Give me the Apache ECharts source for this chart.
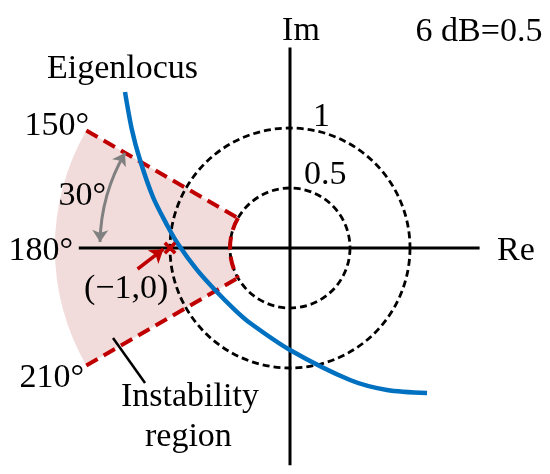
<!DOCTYPE html>
<html>
<head>
<meta charset="utf-8">
<script src="https://cdn.jsdelivr.net/npm/echarts@6/dist/echarts.min.js"></script>
<style>
  html, body { margin: 0; padding: 0; background: #fff; }
  #chart { width: 550px; height: 474px; }
</style>
</head>
<body>
<div id="chart"></div>
<script>
// 坐标轴（Re / Im）
const reAxis = [[-1.76, 0], [1.58, 0]];
const imAxis = [[0, 1.67], [0, -1.81]];
// 虚线圆半径
const circleRadii = [1, 0.5];
// 不稳定区域：角度 + 半径
const sectorAngles = [150, 210];
const sectorRadii = [0.5, 1.96];
// 特征轨迹
const eigenlocus = [
  [-1.375, 1.30], [-1.317, 0.983], [-1.25, 0.733], [-1.142, 0.425],
  [-1.025, 0.192], [-0.933, 0.033], [-0.775, -0.183], [-0.625, -0.35],
  [-0.458, -0.517], [-0.333, -0.625], [0, -0.85],
  [0.5, -1.1], [0.808, -1.183], [1.142, -1.208]
];
// (-1,0) 点
const criticalPoint = [[-1, 0]];
// 指向 (-1,0) 的箭头
const pointArrow = [[-1.27, -0.175], [-1.055, -0.01]];
// 30° 弧形双箭头
const angleArrow = [[-1.375, 0.792], [-1.583, 0.05]];
// 标注引线
const leader = [[-1.475, -0.75], [-1.208, -1.125]];
// 刻度文字
const tickLabels = ['1', '0.5'];

const red = '#c00000';

let myChart = echarts.init(document.getElementById('chart'));

function toRad(deg) {
  return deg * Math.PI / 180;
}

function label(text, x, y, align) {
  return {
    type: 'text', x: x, y: y, z: 100,
    style: {
      text: text, fontSize: 34, fontFamily: 'Liberation Serif',
      fill: '#000', align: align || 'left', verticalAlign: 'middle'
    }
  };
}

let option = {
  animation: false,
  grid: { left: 0, right: 0, top: 0, bottom: 0 },
  xAxis: { type: 'value', min: -290 / 120, max: 260 / 120, show: false },
  yAxis: { type: 'value', min: -226 / 120, max: 248 / 120, show: false },
  series: [
    {
      // 粉色扇区
      type: 'custom', z: 1, silent: true,
      data: [[sectorAngles[0], sectorAngles[1], sectorRadii[0], sectorRadii[1]]],
      renderItem: function (params, api) {
        const c = api.coord([0, 0]);
        const r0 = api.size([api.value(2), 0])[0];
        const r = api.size([api.value(3), 0])[0];
        return {
          type: 'sector',
          shape: { cx: c[0], cy: c[1], r0: r0, r: r, startAngle: toRad(api.value(0)), endAngle: toRad(api.value(1)), clockwise: true },
          style: { fill: '#f2dcdb' }
        };
      }
    },
    {
      type: 'line', z: 2, data: reAxis, symbol: 'none', silent: true,
      lineStyle: { color: '#000', width: 3 }
    },
    {
      type: 'line', z: 2, data: imAxis, symbol: 'none', silent: true,
      lineStyle: { color: '#000', width: 3 }
    },
    {
      // 虚线圆
      type: 'custom', z: 3, silent: true,
      data: circleRadii.map(r => [r]),
      renderItem: function (params, api) {
        const c = api.coord([0, 0]);
        const r = api.size([api.value(0), 0])[0];
        return {
          type: 'circle',
          shape: { cx: c[0], cy: c[1], r: r },
          style: { fill: 'none', stroke: '#000', lineWidth: 2.8, lineDash: [7, 4] }
        };
      }
    },
    {
      // 红色虚线边界
      type: 'custom', z: 4, silent: true,
      data: [[sectorAngles[0], sectorAngles[1], sectorRadii[0], sectorRadii[1]]],
      renderItem: function (params, api) {
        const a1 = toRad(api.value(0)), a2 = toRad(api.value(1));
        const ri = api.value(2), ro = api.value(3);
        const p1o = api.coord([ro * Math.cos(a1), ro * Math.sin(a1)]);
        const p1i = api.coord([ri * Math.cos(a1), ri * Math.sin(a1)]);
        const p2o = api.coord([ro * Math.cos(a2), ro * Math.sin(a2)]);
        const p2i = api.coord([ri * Math.cos(a2), ri * Math.sin(a2)]);
        const c = api.coord([0, 0]);
        const rpx = api.size([ri, 0])[0];
        const style = { fill: 'none', stroke: red, lineWidth: 4, lineDash: [13, 7] };
        return {
          type: 'group',
          children: [
            { type: 'line', shape: { x1: p1o[0], y1: p1o[1], x2: p1i[0], y2: p1i[1] }, style: style },
            { type: 'line', shape: { x1: p2o[0], y1: p2o[1], x2: p2i[0], y2: p2i[1] }, style: style },
            { type: 'arc', shape: { cx: c[0], cy: c[1], r: rpx, startAngle: -a1, endAngle: -a2, clockwise: false }, style: style }
          ]
        };
      }
    },
    {
      type: 'line', z: 5, data: eigenlocus, symbol: 'none', smooth: 0.3, silent: true,
      lineStyle: { color: '#0070c0', width: 4.5 }
    },
    {
      type: 'lines', coordinateSystem: 'cartesian2d', z: 6, silent: true,
      symbol: ['none', 'arrow'], symbolSize: 13,
      lineStyle: { color: red, width: 3.5, opacity: 1 },
      data: [{ coords: pointArrow }]
    },
    {
      type: 'lines', coordinateSystem: 'cartesian2d', z: 6, silent: true,
      symbol: ['arrow', 'arrow'], symbolSize: 12,
      lineStyle: { color: '#808080', width: 3, curveness: -0.13, opacity: 1 },
      data: [{ coords: angleArrow }]
    },
    {
      type: 'line', z: 6, data: leader, symbol: 'none', silent: true,
      lineStyle: { color: '#000', width: 2.5 }
    },
    {
      type: 'scatter', z: 7, data: criticalPoint, silent: true,
      symbol: 'path://M2,0L5,3L8,0L10,2L7,5L10,8L8,10L5,7L2,10L0,8L3,5L0,2Z',
      symbolSize: 13,
      itemStyle: { color: red, opacity: 1 }
    }
  ],
  graphic: [
    label('Im', 301, 31, 'center'),
    label('6 dB=0.5', 479, 32, 'center'),
    label('Re', 497, 251),
    label(tickLabels[0], 313, 117),
    label(tickLabels[1], 304, 175),
    label('Eigenlocus', 47, 69),
    label('150°', 89, 126, 'right'),
    label('30°', 106, 196, 'right'),
    label('180°', 73, 251, 'right'),
    label('(\u22121,0)', 84, 289),
    label('210°', 84, 378, 'right'),
    label('Instability', 121, 397),
    label('region', 145, 437)
  ]
};

myChart.setOption(option);
</script>
</body>
</html>
